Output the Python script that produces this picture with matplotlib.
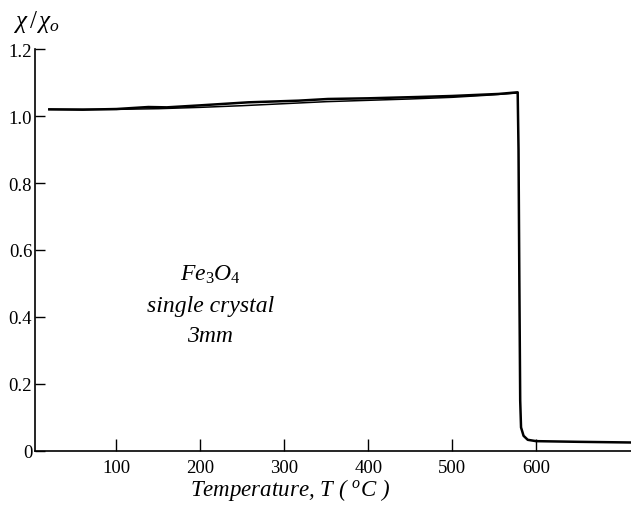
import matplotlib
matplotlib.use("Agg")
import matplotlib.pyplot as plt

# susceptibility vs temperature, heating and cooling runs
temp_heat = [20, 60, 100, 138, 160, 200, 257, 317, 352, 400, 460, 500, 555, 578, 579, 580, 581, 582, 585, 590, 600, 650, 713]
chi_heat = [1.020, 1.019, 1.021, 1.027, 1.026, 1.032, 1.041, 1.046, 1.051, 1.053, 1.057, 1.060, 1.066, 1.071, 0.90, 0.50, 0.15, 0.07, 0.045, 0.033, 0.029, 0.027, 0.025]
temp_cool = [20, 100, 150, 200, 250, 300, 350, 400, 450, 500, 540, 578]
chi_cool = [1.020, 1.020, 1.022, 1.026, 1.031, 1.037, 1.043, 1.047, 1.051, 1.056, 1.062, 1.069]

xticks = [100, 200, 300, 400, 500, 600]
yticks = [0, 0.2, 0.4, 0.6, 0.8, 1.0, 1.2]
ytick_labels = ["0", "0.2", "0.4", "0.6", "0.8", "1.0", "1.2"]

plt.rcParams["font.family"] = "Liberation Serif"
plt.rcParams["mathtext.fontset"] = "custom"
plt.rcParams["mathtext.rm"] = "Liberation Serif"
plt.rcParams["mathtext.it"] = "Liberation Serif:italic"

fig = plt.figure(figsize=(6.31, 5.06), dpi=100)
ax = fig.add_axes([0.0555, 0.107, 0.9445, 0.794])

ax.plot(temp_heat, chi_heat, color="black", lw=1.8)
ax.plot(temp_cool, chi_cool, color="black", lw=1.1)

ax.set_xlim(3, 713)
ax.set_ylim(0, 1.2)
ax.set_xticks(xticks)
ax.set_yticks(yticks)
ax.set_yticklabels(ytick_labels)
ax.tick_params(axis="x", direction="in", length=9, width=1, labelsize=13.5, pad=6)
ax.tick_params(axis="y", direction="in", length=7, width=1, labelsize=13.5, pad=2)

for side in ("top", "right"):
    ax.spines[side].set_visible(False)
for side in ("left", "bottom"):
    ax.spines[side].set_linewidth(1.2)

fig.text(290 / 631, 1 - 490 / 506, r"Temperature, $T$ ( $^{o}C$ )", fontsize=16.5,
         style="italic", ha="center", va="center")
fig.text(0.02, 1 - 22 / 506, r"$\chi\,/\,\chi_o$", fontsize=18, ha="left", va="center")

ax.text(212, 0.528, r"$Fe_3O_4$", fontsize=17, ha="center", va="center")
ax.text(212, 0.433, "single crystal", fontsize=17, style="italic", ha="center", va="center")
ax.text(212, 0.346, "3mm", fontsize=17, style="italic", ha="center", va="center")

fig.savefig("out.png", dpi=100)
